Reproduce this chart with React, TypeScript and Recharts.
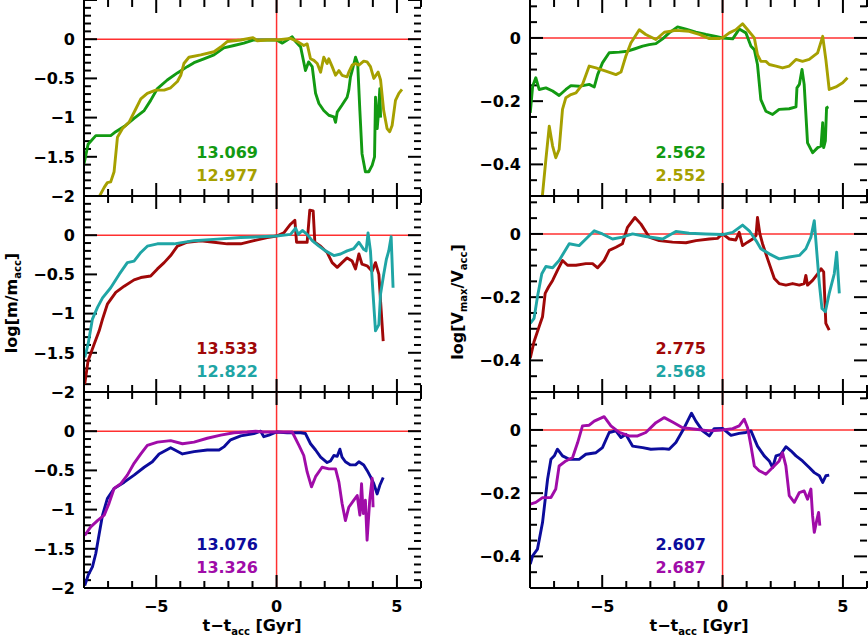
import React from 'react';
import { LineChart, Line, XAxis, YAxis, ReferenceLine } from 'recharts';

type Pt = [number, number];

// log(m / m_acc) vs t - t_acc  (left column)
const massGreen: Pt[] = [
  [-8, -1.59], [-7.83, -1.34], [-7.51, -1.23], [-6.89, -1.23], [-6.68, -1.18], [-6.27, -1.1], [-5.92, -1.01],
  [-5.5, -0.91], [-5.23, -0.78], [-4.95, -0.63], [-4.54, -0.52], [-4.12, -0.43], [-3.71, -0.35], [-3.43, -0.3],
  [-3.02, -0.25], [-2.6, -0.2], [-2.19, -0.11], [-1.77, -0.08], [-1.36, -0.05], [-0.94, -0.01], [-0.53, -0.01],
  [0, -0.01], [0.24, -0.05], [0.44, -0.01], [0.65, 0.03], [0.79, -0.03], [1.0, -0.1], [1.2, -0.4], [1.33, -0.29],
  [1.48, -0.35], [1.62, -0.69], [1.76, -0.82], [1.96, -0.91], [2.17, -0.97], [2.38, -0.99], [2.45, -1.06],
  [2.52, -0.93], [2.72, -0.84], [2.93, -0.74], [3.0, -0.65], [3.07, -0.48], [3.14, -0.4], [3.28, -0.23],
  [3.37, -0.31], [3.46, -0.91], [3.55, -1.46], [3.69, -1.69], [3.83, -1.69], [3.97, -1.61], [4.07, -1.5],
  [4.11, -0.74], [4.18, -1.14], [4.22, -0.99], [4.29, -0.63], [4.32, -1.0],
];
const massOlive: Pt[] = [
  [-7.5, -2.3], [-7.37, -2.01], [-7.16, -1.89], [-7.03, -1.83], [-6.89, -1.82], [-6.75, -1.69], [-6.61, -1.25],
  [-6.4, -1.14], [-6.13, -1.06], [-5.85, -0.89], [-5.64, -0.76], [-5.37, -0.69], [-5.02, -0.65], [-4.67, -0.65],
  [-4.4, -0.62], [-4.12, -0.54], [-3.98, -0.46], [-3.85, -0.31], [-3.64, -0.23], [-3.15, -0.2], [-2.6, -0.16],
  [-2.32, -0.1], [-2.05, -0.03], [-1.49, -0.01], [-0.98, 0.02], [-0.8, -0.02], [-0.39, -0.01], [0, -0.01],
  [0.3, 0], [0.58, 0.01], [0.86, -0.03], [1.13, -0.08], [1.27, -0.06], [1.41, -0.25], [1.55, -0.27],
  [1.69, -0.31], [1.83, -0.42], [1.96, -0.23], [2.1, -0.31], [2.17, -0.25], [2.31, -0.35], [2.45, -0.46],
  [2.59, -0.4], [2.72, -0.46], [2.93, -0.48], [3.0, -0.42], [3.14, -0.33], [3.28, -0.31], [3.42, -0.33],
  [3.62, -0.28], [3.76, -0.29], [3.9, -0.35], [4.04, -0.5], [4.22, -0.42], [4.32, -0.52], [4.45, -0.91],
  [4.59, -1.14], [4.7, -1.18], [4.8, -1.1], [4.94, -0.78], [5.08, -0.69], [5.21, -0.64],
];
const massRed: Pt[] = [
  [-7.97, -1.9], [-7.83, -1.6], [-7.58, -1.39], [-7.37, -1.22], [-7.23, -1.07], [-7.03, -0.88], [-6.68, -0.73],
  [-6.33, -0.65], [-5.92, -0.57], [-5.64, -0.54], [-5.23, -0.52], [-4.95, -0.43], [-4.67, -0.35], [-4.4, -0.26],
  [-4.12, -0.14], [-3.71, -0.09], [-3.15, -0.07], [-2.6, -0.09], [-2.05, -0.11], [-1.49, -0.11], [-0.94, -0.07],
  [-0.39, -0.03], [0, -0.01], [0.3, 0.03], [0.58, 0.14], [0.76, 0.19], [0.83, -0.09], [1.0, -0.09], [1.27, -0.09],
  [1.38, 0.32], [1.52, 0.31], [1.59, -0.09], [1.83, -0.14], [2.1, -0.22], [2.31, -0.35], [2.52, -0.41],
  [2.72, -0.35], [2.93, -0.29], [3.14, -0.33], [3.28, -0.43], [3.42, -0.24], [3.55, -0.37], [3.76, -0.39],
  [3.97, -0.46], [4.11, -0.35], [4.25, -0.5], [4.32, -0.84], [4.43, -1.35],
];
const massTeal: Pt[] = [
  [-7.97, -1.56], [-7.83, -1.39], [-7.65, -1.07], [-7.44, -0.92], [-7.23, -0.8], [-6.89, -0.67], [-6.54, -0.5],
  [-6.2, -0.35], [-5.92, -0.33], [-5.64, -0.22], [-5.37, -0.14], [-4.95, -0.11], [-4.26, -0.11], [-3.43, -0.07],
  [-2.46, -0.05], [-1.49, -0.03], [-0.66, -0.02], [0, -0.01], [0.58, 0.01], [0.79, 0.09], [0.9, 0.01],
  [1.07, 0.06], [1.27, 0.01], [1.48, -0.07], [1.76, -0.14], [2.03, -0.2], [2.38, -0.26], [2.66, -0.24],
  [2.93, -0.2], [3.21, -0.17], [3.42, -0.09], [3.62, -0.18], [3.72, -0.2], [3.8, 0.03], [3.9, -0.2], [4.0, -0.71],
  [4.11, -1.22], [4.25, -1.14], [4.32, -0.75], [4.45, -0.5], [4.56, -0.31], [4.66, -0.2], [4.76, -0.02],
  [4.84, -0.67],
];
const massBlue: Pt[] = [
  [-7.97, -1.97], [-7.83, -1.84], [-7.65, -1.73], [-7.51, -1.56], [-7.37, -1.31], [-7.23, -1.07], [-7.03, -0.86],
  [-6.75, -0.73], [-6.33, -0.65], [-5.92, -0.56], [-5.5, -0.46], [-5.16, -0.39], [-4.88, -0.29], [-4.4, -0.21],
  [-3.91, -0.29], [-3.43, -0.26], [-2.88, -0.24], [-2.39, -0.24], [-2.19, -0.2], [-1.91, -0.11], [-1.49, -0.06],
  [-0.94, -0.03], [-0.66, 0], [-0.53, -0.07], [-0.32, -0.05], [0, -0.01], [0.44, -0.02], [1.0, -0.02],
  [1.2, -0.03], [1.41, -0.16], [1.62, -0.24], [1.83, -0.33], [2.1, -0.4], [2.24, -0.38], [2.38, -0.31],
  [2.52, -0.32], [2.63, -0.23], [2.72, -0.33], [2.86, -0.39], [3.07, -0.43], [3.28, -0.43], [3.42, -0.39],
  [3.62, -0.43], [3.76, -0.5], [3.9, -0.58], [4.04, -0.67], [4.18, -0.8], [4.29, -0.69], [4.43, -0.59],
];
const massPurple: Pt[] = [
  [-7.97, -1.33], [-7.72, -1.22], [-7.44, -1.14], [-7.16, -1.07], [-6.96, -0.92], [-6.75, -0.73], [-6.47, -0.67],
  [-6.2, -0.56], [-5.92, -0.41], [-5.64, -0.29], [-5.37, -0.18], [-4.95, -0.14], [-4.4, -0.12], [-3.91, -0.16],
  [-3.43, -0.14], [-2.88, -0.09], [-2.32, -0.05], [-1.77, -0.02], [-1.22, -0.01], [-0.87, 0], [-0.53, -0.01],
  [0, -0.01], [0.44, -0.01], [0.65, -0.01], [0.93, -0.18], [1.13, -0.31], [1.27, -0.52], [1.45, -0.71],
  [1.62, -0.58], [1.89, -0.46], [2.17, -0.48], [2.45, -0.48], [2.59, -0.65], [2.72, -0.92], [2.86, -1.14],
  [3.0, -0.97], [3.21, -0.88], [3.35, -0.82], [3.46, -1.07], [3.53, -0.67], [3.6, -1.05], [3.69, -0.88],
  [3.76, -1.39], [3.87, -0.88], [3.97, -0.6], [4.01, -0.97],
];

// log(Vmax / V_acc) vs t - t_acc  (right column)
const vmaxGreen: Pt[] = [
  [-7.99, -0.237], [-7.89, -0.153], [-7.76, -0.126], [-7.62, -0.163], [-7.34, -0.158], [-7.06, -0.168],
  [-6.79, -0.182], [-6.51, -0.163], [-6.3, -0.151], [-5.96, -0.153], [-5.54, -0.147], [-5.33, -0.155],
  [-5.19, -0.116], [-4.99, -0.079], [-4.71, -0.047], [-4.29, -0.045], [-3.95, -0.042], [-3.67, -0.035],
  [-3.32, -0.026], [-3.05, -0.021], [-2.77, -0.018], [-2.49, -0.003], [-2.22, 0.016], [-1.87, 0.035],
  [-1.52, 0.028], [-1.11, 0.018], [-0.69, 0.011], [-0.28, 0.005], [0, 0], [0.42, -0.003], [0.69, 0.028],
  [0.97, 0.016], [1.18, -0.026], [1.32, -0.037], [1.45, -0.084], [1.59, -0.195], [1.8, -0.232], [2.08, -0.242],
  [2.35, -0.226], [2.77, -0.224], [3.05, -0.218], [3.09, -0.158], [3.19, -0.147], [3.3, -0.1], [3.39, -0.147],
  [3.53, -0.332], [3.74, -0.363], [3.95, -0.347], [4.09, -0.342], [4.16, -0.268], [4.2, -0.347], [4.27, -0.326],
  [4.32, -0.221], [4.4, -0.218],
];
const vmaxOlive: Pt[] = [
  [-7.56, -0.56], [-7.48, -0.495], [-7.34, -0.384], [-7.2, -0.279], [-7.06, -0.342], [-6.93, -0.379],
  [-6.79, -0.353], [-6.65, -0.226], [-6.51, -0.189], [-6.3, -0.179], [-6.09, -0.174], [-5.82, -0.147],
  [-5.54, -0.089], [-5.26, -0.095], [-4.85, -0.105], [-4.43, -0.116], [-4.22, -0.108], [-4.02, -0.058],
  [-3.81, -0.016], [-3.46, 0.026], [-3.19, 0.011], [-2.77, -0.005], [-2.42, 0.018], [-1.94, 0.024],
  [-1.39, 0.021], [-0.97, 0.011], [-0.55, -0.002], [-0.14, -0.002], [0, 0], [0.28, 0.016], [0.55, 0.026],
  [0.83, 0.045], [1.04, 0.026], [1.32, 0], [1.45, -0.053], [1.59, -0.074], [1.8, -0.074], [1.94, -0.084],
  [2.22, -0.089], [2.49, -0.095], [2.77, -0.089], [3.05, -0.068], [3.32, -0.074], [3.6, -0.068], [3.95, -0.047],
  [4.16, 0.005], [4.29, -0.068], [4.43, -0.163], [4.71, -0.155], [4.99, -0.142], [5.19, -0.126],
];
const vmaxRed: Pt[] = [
  [-7.99, -0.393], [-7.83, -0.34], [-7.62, -0.293], [-7.48, -0.262], [-7.37, -0.188], [-7.23, -0.168],
  [-7.06, -0.147], [-6.86, -0.115], [-6.65, -0.084], [-6.44, -0.099], [-6.09, -0.099], [-5.68, -0.094],
  [-5.4, -0.094], [-5.19, -0.107], [-4.92, -0.084], [-4.71, -0.052], [-4.43, -0.042], [-4.16, -0.031],
  [-3.95, 0.021], [-3.64, 0.052], [-3.39, 0.031], [-3.05, -0.01], [-2.63, -0.021], [-2.08, -0.026],
  [-1.52, -0.028], [-1.11, -0.021], [-0.55, -0.016], [-0.21, -0.014], [0, 0], [0.28, -0.016], [0.55, -0.019],
  [0.69, 0.005], [0.83, -0.037], [1.04, -0.026], [1.25, -0.016], [1.39, -0.005], [1.45, 0.052], [1.55, 0],
  [1.66, -0.031], [1.87, -0.079], [2.15, -0.141], [2.35, -0.157], [2.63, -0.162], [2.91, -0.157],
  [3.19, -0.162], [3.39, -0.157], [3.46, -0.131], [3.53, -0.162], [3.74, -0.147], [3.95, -0.126],
  [4.09, -0.11], [4.2, -0.12], [4.29, -0.283], [4.43, -0.304],
];
const vmaxTeal: Pt[] = [
  [-7.99, -0.283], [-7.83, -0.267], [-7.69, -0.199], [-7.51, -0.126], [-7.34, -0.103], [-7.06, -0.107],
  [-6.79, -0.084], [-6.37, -0.031], [-5.96, -0.037], [-5.68, -0.016], [-5.33, 0.01], [-4.99, 0], [-4.57, -0.016],
  [-4.16, -0.01], [-3.74, 0], [-3.19, -0.008], [-2.49, -0.016], [-1.94, 0.008], [-1.39, 0.002], [-0.69, 0],
  [0, -0.002], [0.42, 0.005], [0.83, 0.028], [1.11, 0.01], [1.39, -0.021], [1.59, -0.047], [1.94, -0.063],
  [2.35, -0.079], [2.77, -0.073], [3.19, -0.068], [3.46, -0.047], [3.67, -0.01], [3.81, 0.042], [3.92, -0.063],
  [4.02, -0.157], [4.13, -0.236], [4.27, -0.246], [4.43, -0.188], [4.64, -0.126], [4.74, -0.058], [4.85, -0.188],
];
const vmaxBlue: Pt[] = [
  [-7.99, -0.424], [-7.89, -0.398], [-7.69, -0.377], [-7.48, -0.293], [-7.27, -0.156], [-7.13, -0.093],
  [-6.99, -0.082], [-6.86, -0.061], [-6.65, -0.082], [-6.37, -0.093], [-5.96, -0.093], [-5.68, -0.077],
  [-5.26, -0.072], [-4.99, -0.056], [-4.71, -0.008], [-4.43, -0.003], [-4.22, -0.024], [-4.02, -0.014],
  [-3.74, -0.051], [-3.32, -0.056], [-2.98, -0.061], [-2.49, -0.059], [-2.22, -0.061], [-1.94, -0.04],
  [-1.59, 0.007], [-1.29, 0.053], [-1.11, 0.028], [-0.83, -0.003], [-0.55, -0.019], [-0.35, 0.004], [0, 0.005],
  [0.35, -0.017], [0.69, -0.011], [0.97, -0.008], [1.18, -0.003], [1.45, -0.051], [1.73, -0.082], [1.94, -0.098],
  [2.08, -0.119], [2.22, -0.082], [2.42, -0.077], [2.63, -0.053], [2.84, -0.066], [3.05, -0.082], [3.32, -0.098],
  [3.6, -0.119], [3.81, -0.135], [4.02, -0.145], [4.16, -0.166], [4.29, -0.145], [4.43, -0.143],
];
const vmaxPurple: Pt[] = [
  [-7.99, -0.235], [-7.76, -0.229], [-7.48, -0.214], [-7.13, -0.214], [-6.93, -0.187], [-6.79, -0.114],
  [-6.51, -0.098], [-6.23, -0.087], [-6.02, -0.04], [-5.82, 0.013], [-5.54, 0.015], [-5.33, 0.028], [-4.92, 0.042],
  [-4.64, 0.013], [-4.29, -0.008], [-3.88, -0.019], [-3.53, -0.019], [-3.19, -0.008], [-2.77, 0.023],
  [-2.42, 0.039], [-2.08, 0.025], [-1.66, 0.007], [-1.11, 0.002], [-0.55, -0.003], [0, 0], [0.42, 0.004],
  [0.69, 0.013], [0.9, 0.034], [1.04, 0.007], [1.18, -0.051], [1.32, -0.114], [1.52, -0.129], [1.8, -0.14],
  [2.08, -0.119], [2.35, -0.098], [2.49, -0.072], [2.63, -0.114], [2.77, -0.208], [2.98, -0.229], [3.19, -0.198],
  [3.39, -0.193], [3.53, -0.219], [3.67, -0.187], [3.74, -0.272], [3.81, -0.324], [3.91, -0.287], [3.99, -0.261],
  [4.04, -0.303],
];

const massLabels = [['13.069', '12.977'], ['13.533', '12.822'], ['13.076', '13.326']];
const vmaxLabels = [['2.562', '2.552'], ['2.775', '2.568'], ['2.607', '2.687']];

const GREEN = '#129a12';
const OLIVE = '#a6a000';
const DARKRED = '#a00808';
const TEAL = '#1fa5a5';
const NAVY = '#0c0c9c';
const PURPLE = '#a00ca8';
const RED = '#ff3030';
const FONT = '"DejaVu Sans", Verdana, sans-serif';

const rowColors = [[GREEN, OLIVE], [DARKRED, TEAL], [NAVY, PURPLE]];
const massRows = [[massGreen, massOlive], [massRed, massTeal], [massBlue, massPurple]];
const vmaxRows = [[vmaxGreen, vmaxOlive], [vmaxRed, vmaxTeal], [vmaxBlue, vmaxPurple]];

function range(a: number, b: number, step: number) {
  const out: number[] = [];
  const n = Math.round((b - a) / step);
  for (let i = 0; i <= n; i++) out.push(+(a + i * step).toFixed(4));
  return out;
}

const X_DOMAIN: [number, number] = [-8, 6];
const xTicks = range(-8, 6, 1);
const massTicks = range(-2, 0.5, 0.1);
const vmaxTicks = range(-0.5, 0.1, 0.05);

const fmt = (v: number) => (v < -1e-9 ? '\u2212' : '') + String(+Math.abs(v).toFixed(2));
const isMajor = (v: number, step: number) => Math.abs(v / step - Math.round(v / step)) < 1e-6;

function makeLabel(side: 'left' | 'bottom', majorStep: number, show: boolean) {
  return (props: any) => {
    const x = Number(props.x);
    const y = Number(props.y);
    const v = Number(props.payload.value);
    if (!show || !isMajor(v, majorStep) || (side === 'left' && v > 1e-9)) return <g />;
    if (side === 'left') {
      return (
        <text x={x - 9} y={y} dy="0.36em" textAnchor="end" fontFamily={FONT} fontWeight="bold" fontSize={16} fill="#000">
          {fmt(v)}
        </text>
      );
    }
    return (
      <text x={x} y={y + 24} textAnchor="middle" fontFamily={FONT} fontWeight="bold" fontSize={16} fill="#000">
        {fmt(v)}
      </text>
    );
  };
}

const ROW_TOPS = [0, 196, 392];
const PLOT_H = 196;
const PLOT_W = 337;
const MINOR = 7;
const MAJOR = 13;

interface PanelProps {
  left: number;
  top: number;
  axisW: number;
  domain: [number, number];
  yTicks: number[];
  yMajor: number;
  series: Pt[][];
  colors: string[];
  bottomRow: boolean;
}

function Panel({ left, top, axisW, domain, yTicks, yMajor, series, colors, bottomRow }: PanelProps) {
  const padTop = 10;
  const bottomH = bottomRow ? 641 - (top + PLOT_H) : 12;
  const width = axisW + PLOT_W + 2;
  const height = padTop + PLOT_H + bottomH;
  const frame = { stroke: '#000', strokeWidth: 2 };
  const common = { tickSize: 0, tickMargin: 0, tickLine: false, interval: 0 as const, allowDataOverflow: true };
  // inward tick marks, lengths converted from px to data units
  const dx = (X_DOMAIN[1] - X_DOMAIN[0]) / PLOT_W;
  const dy = (domain[1] - domain[0]) / PLOT_H;
  const [x0, x1] = X_DOMAIN;
  const [y0, y1] = domain;
  const tickSegs: { x: number; y: number }[][] = [];
  yTicks.forEach((v) => {
    const l = (isMajor(v, yMajor) ? MAJOR : MINOR) * dx;
    tickSegs.push([{ x: x0, y: v }, { x: x0 + l, y: v }]);
    tickSegs.push([{ x: x1 - l, y: v }, { x: x1, y: v }]);
  });
  xTicks.forEach((t) => {
    const l = (isMajor(t, 5) ? MAJOR : MINOR) * dy;
    tickSegs.push([{ x: t, y: y0 }, { x: t, y: y0 + l }]);
    tickSegs.push([{ x: t, y: y1 - l }, { x: t, y: y1 }]);
  });
  return (
    <div style={{ position: 'absolute', left: left - axisW, top: top - padTop }}>
      <LineChart width={width} height={height} margin={{ top: padTop, right: 2, bottom: 0, left: 0 }}>
        <XAxis xAxisId={0} type="number" dataKey="t" domain={X_DOMAIN} ticks={xTicks} height={bottomH}
          axisLine={frame} tick={makeLabel('bottom', 5, bottomRow)} {...common} />
        <XAxis xAxisId="top" orientation="top" type="number" domain={X_DOMAIN} ticks={xTicks} height={0}
          axisLine={frame} tick={false} {...common} />
        <YAxis yAxisId={0} type="number" domain={domain} ticks={yTicks} width={axisW}
          axisLine={frame} tick={makeLabel('left', yMajor, true)} {...common} />
        <YAxis yAxisId="right" orientation="right" type="number" domain={domain} ticks={yTicks} width={0}
          axisLine={frame} tick={false} {...common} />
        <ReferenceLine x={0} stroke={RED} strokeWidth={1.5} />
        <ReferenceLine y={0} stroke={RED} strokeWidth={1.5} />
        {tickSegs.map((seg, i) => (
          <ReferenceLine key={'tk' + i} segment={seg} stroke="#000" strokeWidth={2} ifOverflow="visible" />
        ))}
        {series.map((pts, i) => (
          <Line
            key={i}
            data={pts.map(([t, v]) => ({ t, v }))}
            dataKey="v"
            type="linear"
            stroke={colors[i]}
            strokeWidth={2.9}
            strokeLinejoin="round"
            dot={false}
            activeDot={false}
            isAnimationActive={false}
          />
        ))}
      </LineChart>
    </div>
  );
}

const txt = { fontFamily: FONT, fontWeight: 'bold' as const, fontSize: 16 };

export default function App() {
  return (
    <div style={{ position: 'absolute', left: 0, top: 0, width: 868, height: 641, background: '#fff' }}>
      {ROW_TOPS.map((top, r) => (
        <Panel
          key={'m' + r}
          left={84}
          top={top}
          axisW={84}
          domain={[-2, 0.5]}
          yTicks={massTicks}
          yMajor={0.5}
          series={massRows[r]}
          colors={rowColors[r]}
          bottomRow={r === 2}
        />
      ))}
      {ROW_TOPS.map((top, r) => (
        <Panel
          key={'v' + r}
          left={530}
          top={top}
          axisW={90}
          domain={[-0.5, 0.12]}
          yTicks={vmaxTicks}
          yMajor={0.2}
          series={vmaxRows[r]}
          colors={rowColors[r]}
          bottomRow={r === 2}
        />
      ))}
      <svg width={868} height={641} style={{ position: 'absolute', left: 0, top: 0, pointerEvents: 'none' }}>
        {ROW_TOPS.map((top, r) => (
          <g key={r}>
            <text x={258} y={top + 158} textAnchor="end" fill={rowColors[r][0]} {...txt}>{massLabels[r][0]}</text>
            <text x={258} y={top + 181} textAnchor="end" fill={rowColors[r][1]} {...txt}>{massLabels[r][1]}</text>
            <text x={706} y={top + 158} textAnchor="end" fill={rowColors[r][0]} {...txt}>{vmaxLabels[r][0]}</text>
            <text x={706} y={top + 181} textAnchor="end" fill={rowColors[r][1]} {...txt}>{vmaxLabels[r][1]}</text>
          </g>
        ))}
        <text x={252} y={631} textAnchor="middle" {...txt}>
          t{'\u2212'}t<tspan fontSize={10} dy={4}>acc</tspan>
          <tspan dy={-4}> [Gyr]</tspan>
        </text>
        <text x={699} y={631} textAnchor="middle" {...txt}>
          t{'\u2212'}t<tspan fontSize={10} dy={4}>acc</tspan>
          <tspan dy={-4}> [Gyr]</tspan>
        </text>
        <text transform="translate(17,303) rotate(-90)" textAnchor="middle" {...txt}>
          log[m/m<tspan fontSize={10} dy={4}>acc</tspan>
          <tspan dy={-4}>]</tspan>
        </text>
        <text transform="translate(463,302) rotate(-90)" textAnchor="middle" {...txt}>
          log[V<tspan fontSize={10} dy={4}>max</tspan>
          <tspan dy={-4}>/V</tspan>
          <tspan fontSize={10} dy={4}>acc</tspan>
          <tspan dy={-4}>]</tspan>
        </text>
      </svg>
    </div>
  );
}
